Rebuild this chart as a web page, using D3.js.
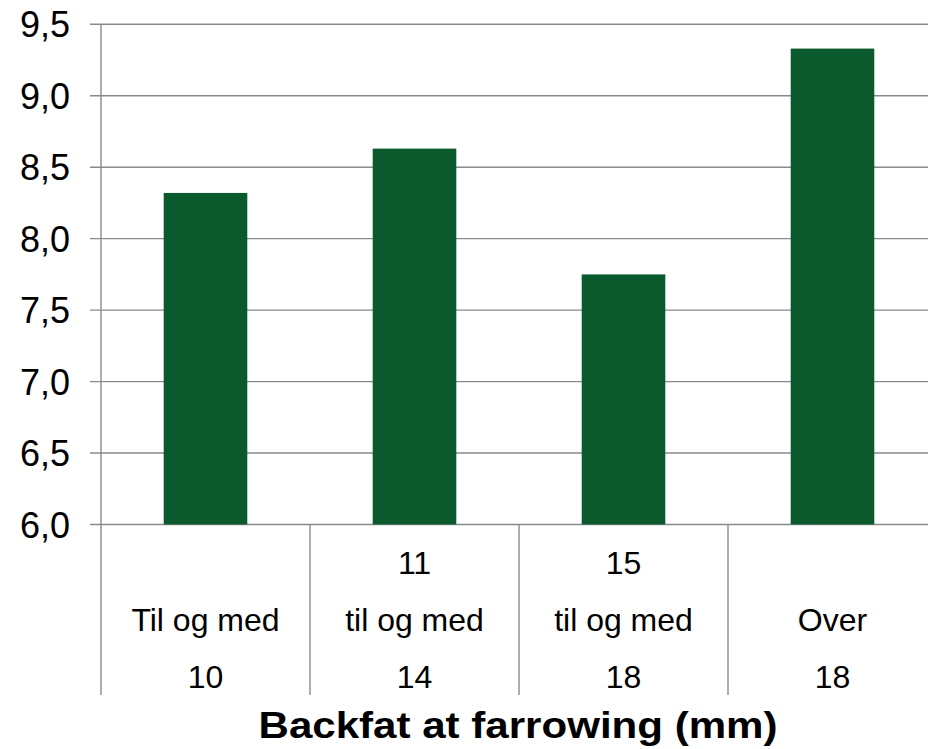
<!DOCTYPE html>
<html>
<head>
<meta charset="utf-8">
<script src="https://cdn.jsdelivr.net/npm/d3@7"></script>
<style>
  html, body { margin: 0; padding: 0; background: #fff; }
  svg { display: block; }
  text { font-family: "Liberation Sans", Arial, sans-serif; fill: #000; }
</style>
</head>
<body>
<svg id="chart" width="928" height="749"></svg>
<script>
// ---- data ----
const categories = ["Til og med 10", "11 til og med 14", "15 til og med 18", "Over 18"];
const labelLine1 = ["", "11", "15", ""];
const labelLine2 = ["Til og med", "til og med", "til og med", "Over"];
const labelLine3 = ["10", "14", "18", "18"];
const values = [8.32, 8.63, 7.75, 9.33];
const yTicks = [6.0, 6.5, 7.0, 7.5, 8.0, 8.5, 9.0, 9.5];
const xTitle = "Backfat at farrowing (mm)";

(function () {
  // ---- layout ----
  const svg = d3.select("#chart");
  const plotLeft = 101, plotRight = 937, plotTop = 24.3, plotBottom = 524.5, labelBottom = 695;
  const gridColor = "#8a8a8a";
  const barColor = "#0b5a2e";

  const x = d3.scaleBand().domain(categories).range([plotLeft, plotRight])
    .paddingInner(0.6).paddingOuter(0.3);
  const y = d3.scaleLinear().domain([6, 9.5]).range([plotBottom, plotTop]);

  const fmt = d3.formatLocale({decimal: ",", thousands: ".", grouping: [3], currency: ["", ""]}).format(".1f");

  // gridlines
  svg.append("g").selectAll("line").data(yTicks).join("line")
    .attr("x1", 90).attr("x2", 928)
    .attr("y1", d => y(d)).attr("y2", d => y(d))
    .attr("stroke", gridColor).attr("stroke-width", 1.4);

  // y axis labels
  const yAxis = d3.axisLeft(y).tickValues(yTicks).tickFormat(fmt).tickSize(0).tickPadding(0);
  const yg = svg.append("g").attr("transform", "translate(70,0)").call(yAxis);
  yg.select(".domain").remove();
  yg.selectAll("text").attr("font-size", 36).attr("font-family", '"Liberation Sans", Arial, sans-serif')
    .attr("fill", "#000").attr("dy", "0.35em");

  // bars
  svg.append("g").selectAll("rect").data(values).join("rect")
    .attr("x", (d, i) => x(categories[i]))
    .attr("width", x.bandwidth())
    .attr("y", d => y(d))
    .attr("height", d => y(6) - y(d))
    .attr("fill", barColor);

  // y axis line
  svg.append("line").attr("x1", plotLeft).attr("x2", plotLeft).attr("y1", plotTop).attr("y2", labelBottom)
    .attr("stroke", gridColor).attr("stroke-width", 1.4);

  // category dividers
  const step = x.step();
  const dividers = categories.map((c, i) => plotLeft + (i + 1) * step);
  svg.append("g").selectAll("line").data(dividers).join("line")
    .attr("x1", d => d).attr("x2", d => d)
    .attr("y1", plotBottom).attr("y2", labelBottom)
    .attr("stroke", gridColor).attr("stroke-width", 1.4);

  // category labels
  const lines = [labelLine1, labelLine2, labelLine3];
  const baselines = [574, 631, 688];
  lines.forEach((arr, li) => {
    svg.append("g").selectAll("text").data(arr).join("text")
      .attr("x", (d, i) => x(categories[i]) + x.bandwidth() / 2)
      .attr("y", baselines[li])
      .attr("text-anchor", "middle")
      .attr("font-size", 32)
      .text(d => d);
  });

  // x title
  svg.append("text")
    .attr("x", (plotLeft + plotRight) / 2 - 1)
    .attr("y", 738)
    .attr("text-anchor", "middle")
    .attr("font-size", 36)
    .attr("font-weight", "bold")
    .attr("textLength", 519)
    .attr("lengthAdjust", "spacingAndGlyphs")
    .text(xTitle);
})();
</script>
</body>
</html>
